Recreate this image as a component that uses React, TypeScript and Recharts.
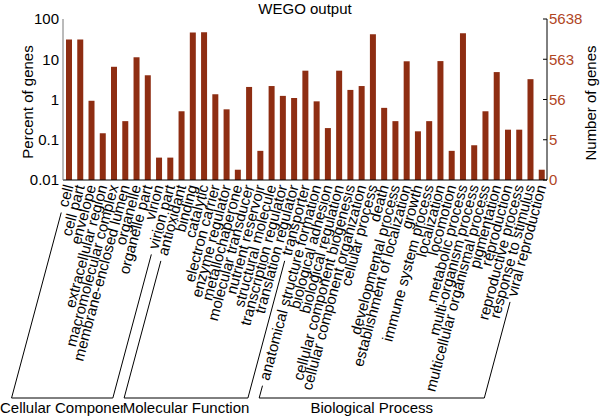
import { BarChart, Bar, XAxis, YAxis } from 'recharts';

const categories = [
  'cell', 'cell part', 'envelope', 'extracellular region', 'macromolecular complex',
  'membrane-enclosed lumen', 'organelle', 'organelle part', 'virion', 'virion part',
  'antioxidant', 'binding', 'catalytic', 'electron carrier', 'enzyme regulator',
  'metallochaperone', 'molecular transducer', 'nutrient reservoir', 'structural molecule',
  'transcription regulator', 'translation regulator', 'transporter',
  'anatomical structure formation', 'biological adhesion', 'biological regulation',
  'cellular component biogenesis', 'cellular component organization', 'cellular process',
  'death', 'developmental process', 'establishment of localization', 'growth',
  'immune system process', 'localization', 'locomotion', 'metabolic process',
  'multi-organism process', 'multicellular organismal process', 'pigmentation',
  'reproduction', 'reproductive process', 'response to stimulus', 'viral reproduction',
];

const percentValues = [
  31, 31, 0.93, 0.145, 6.5, 0.29, 11.2, 4.0, 0.036, 0.036,
  0.51, 46, 47, 1.35, 0.57, 0.018, 2.05, 0.053, 2.16, 1.23, 1.09, 5.2,
  0.9, 0.195, 5.2, 1.73, 2.16, 42, 0.62, 0.29, 8.9, 0.162, 0.29, 9.0, 0.053,
  44, 0.073, 0.51, 4.8, 0.178, 0.178, 3.2, 0.018,
];

const groupNames = ['Cellular Component', 'Molecular Function', 'Biological Process'];
const groupSizes = [10, 12, 21];

const tickValues = [0.01, 0.1, 1, 10, 100];
const leftTickLabels = ['0.01', '0.1', '1', '10', '100'];
const rightTickLabels = ['0', '5', '56', '563', '5638'];

const data = categories.map((name, i) => ({ name, percent: percentValues[i] }));
const topTicks = categories.slice(1).map((_, i) => i + 1);

const BAR = '#8e2d12';
const RIGHT = '#b0461f';
const FONT = '"Liberation Sans", Arial, Helvetica, sans-serif';
const FS = 15;
const ANGLE = 75;
const cosA = Math.cos((ANGLE * Math.PI) / 180);
const sinA = Math.sin((ANGLE * Math.PI) / 180);
const BRACKET_Y = 398;
const GROUP_LABEL_Y = 413;

let ctx: CanvasRenderingContext2D | null = null;
function textWidth(s: string) {
  if (!ctx) ctx = document.createElement('canvas').getContext('2d');
  if (!ctx) return s.length * FS * 0.5;
  ctx.font = `${FS}px ${FONT}`;
  return ctx.measureText(s).width;
}

function groupOf(i: number) {
  let start = 0;
  for (let g = 0; g < groupSizes.length; g++) {
    const end = start + groupSizes[g] - 1;
    if (i <= end) return { g, start, end };
    start = end + 1;
  }
  return { g: groupSizes.length - 1, start: 0, end: categories.length - 1 };
}

const bracketStart: Record<number, number> = {};

function CategoryTick(props: any) {
  const { x, y, payload, index } = props;
  const name = String(payload.value);
  const len = textWidth(name);
  const { g, start, end } = groupOf(index);
  const parts: any[] = [
    <text
      key="t"
      x={x}
      y={y}
      dy="0.35em"
      textAnchor="end"
      fontSize={FS}
      fill="#000"
      transform={`rotate(-${ANGLE}, ${x}, ${y})`}
    >
      {name}
    </text>,
  ];
  if (index === start || index === end) {
    const t0 = len + 6;
    const tb = (BRACKET_Y - y) / sinA;
    const xb = x - cosA * tb;
    parts.push(
      <line key="s" x1={x - cosA * t0} y1={y + sinA * t0} x2={xb} y2={BRACKET_Y} stroke="#000" strokeWidth={1} />
    );
    if (index === start) bracketStart[g] = xb;
    if (index === end) {
      const xa = bracketStart[g] ?? xb;
      const label = groupNames[g];
      const w = textWidth(label);
      const cx = Math.max((xa + xb) / 2, w / 2);
      parts.push(
        <line key="h" x1={xa} y1={BRACKET_Y} x2={xb} y2={BRACKET_Y} stroke="#000" strokeWidth={1} />,
        <rect key="r" x={cx - w / 2 + 1} y={GROUP_LABEL_Y - 12} width={w - 1} height={16} fill="#fff" />,
        <text key="l" x={cx} y={GROUP_LABEL_Y} textAnchor="middle" fontSize={FS} fill="#000">
          {label}
        </text>
      );
    }
  }
  return <g>{parts}</g>;
}

export default function App() {
  return (
    <div style={{ position: 'absolute', left: 0, top: 0, width: 600, height: 419, background: '#fff', fontFamily: FONT }}>
      <BarChart width={600} height={419} data={data} margin={{ top: 19, right: 0, bottom: 0, left: 0 }}>
        <XAxis
          xAxisId="bottom"
          dataKey="name"
          interval={0}
          height={239}
          tickSize={0}
          tickMargin={5}
          tickLine={false}
          axisLine={{ stroke: '#000' }}
          tick={(p: any) => <CategoryTick {...p} />}
        />
        <XAxis
          xAxisId="top"
          orientation="top"
          type="number"
          domain={[0, categories.length]}
          allowDataOverflow
          ticks={topTicks}
          height={0}
          tickSize={-4}
          tick={false}
          tickLine={{ stroke: '#000' }}
          axisLine={{ stroke: '#000' }}
        />
        <YAxis
          yAxisId="left"
          scale="log"
          domain={[0.01, 100]}
          allowDataOverflow
          ticks={tickValues}
          width={63}
          tickSize={0}
          tickMargin={4}
          tickLine={false}
          axisLine={{ stroke: '#777' }}
          tick={{ fill: '#000', fontSize: FS }}
          tickFormatter={(v: number) => leftTickLabels[tickValues.indexOf(v)] ?? String(v)}
        />
        <YAxis
          yAxisId="right"
          orientation="right"
          scale="log"
          domain={[0.01, 100]}
          allowDataOverflow
          ticks={tickValues}
          width={53}
          tickSize={-4}
          tickMargin={6}
          tickLine={{ stroke: '#000' }}
          axisLine={{ stroke: '#000' }}
          tick={{ fill: RIGHT, fontSize: FS, textAnchor: 'start' }}
          tickFormatter={(v: number) => rightTickLabels[tickValues.indexOf(v)] ?? String(v)}
        />
        <Bar xAxisId="bottom" yAxisId="left" dataKey="percent" fill={BAR} barSize={6} isAnimationActive={false} />
        <text x={305} y={14} textAnchor="middle" fontSize={FS} fill="#000">WEGO output</text>
        <text x={33} y={102} textAnchor="middle" fontSize={FS} fill="#000" transform="rotate(-90, 33, 102)">
          Percent of genes
        </text>
        <text x={596} y={103} textAnchor="middle" fontSize={FS} fill="#000" transform="rotate(-90, 596, 103)">
          Number of genes
        </text>
      </BarChart>
    </div>
  );
}
